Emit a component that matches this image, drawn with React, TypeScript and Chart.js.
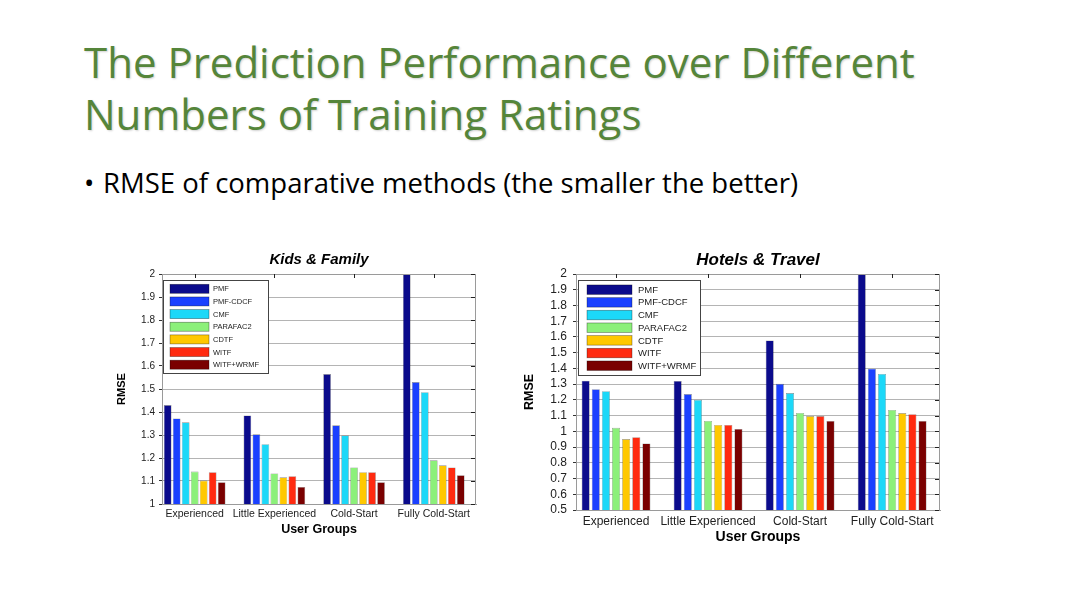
import React, { useEffect, useRef } from "react";
import { Chart, registerables } from "chart.js";

Chart.register(...registerables);

// ---------- data ----------
const categories = ["Experienced", "Little Experienced", "Cold-Start", "Fully Cold-Start"];
const methods = ["PMF", "PMF-CDCF", "CMF", "PARAFAC2", "CDTF", "WITF", "WITF+WRMF"];
const methodColors = ["#0b0b8c", "#1a40ff", "#1cd8f8", "#8cf07a", "#ffc800", "#ff2a10", "#7a0000"];

// Kids & Family RMSE
const kidsPMF = [1.43, 1.385, 1.565, 2.0];
const kidsPMFCDCF = [1.372, 1.303, 1.342, 1.53];
const kidsCMF = [1.355, 1.26, 1.298, 1.486];
const kidsPARAFAC2 = [1.141, 1.133, 1.159, 1.19];
const kidsCDTF = [1.102, 1.116, 1.138, 1.168];
const kidsWITF = [1.138, 1.121, 1.138, 1.159];
const kidsWITFWRMF = [1.095, 1.074, 1.095, 1.125];

// Hotels & Travel RMSE
const hotelsPMF = [1.322, 1.32, 1.578, 2.0];
const hotelsPMFCDCF = [1.268, 1.237, 1.302, 1.398];
const hotelsCMF = [1.255, 1.2, 1.243, 1.365];
const hotelsPARAFAC2 = [1.022, 1.066, 1.117, 1.136];
const hotelsCDTF = [0.951, 1.041, 1.097, 1.116];
const hotelsWITF = [0.963, 1.041, 1.097, 1.109];
const hotelsWITFWRMF = [0.923, 1.015, 1.066, 1.066];

const kidsSeries = [kidsPMF, kidsPMFCDCF, kidsCMF, kidsPARAFAC2, kidsCDTF, kidsWITF, kidsWITFWRMF];
const hotelsSeries = [hotelsPMF, hotelsPMFCDCF, hotelsCMF, hotelsPARAFAC2, hotelsCDTF, hotelsWITF, hotelsWITFWRMF];

const FONT = "'Liberation Sans', Arial, sans-serif";

// ---------- MATLAB-like frame, ticks and legend ----------
const matlabPlugin = {
  id: "matlab",
  afterDatasetsDraw(chart: any, _args: any, opts: any) {
    const { ctx, chartArea: a, scales } = chart;
    ctx.save();
    ctx.strokeStyle = "#9a9a9a";
    ctx.lineWidth = 1;
    ctx.beginPath();
    ctx.moveTo(Math.round(a.right) - 0.5, a.top);
    ctx.lineTo(Math.round(a.right) - 0.5, a.bottom);
    ctx.moveTo(a.left, Math.round(a.top) + 0.5);
    ctx.lineTo(a.right, Math.round(a.top) + 0.5);
    ctx.stroke();

    ctx.strokeStyle = "#222";
    ctx.beginPath();
    scales.y.ticks.forEach((_t: any, i: number) => {
      const y = Math.round(scales.y.getPixelForTick(i)) + 0.5;
      ctx.moveTo(a.right - 5, y);
      ctx.lineTo(a.right - 1, y);
    });
    scales.x.ticks.forEach((_t: any, i: number) => {
      const x = Math.round(scales.x.getPixelForTick(i)) + 0.5;
      ctx.moveTo(x, a.top);
      ctx.lineTo(x, a.top + 4);
    });
    ctx.stroke();

    const L = opts.legend;
    const bx = Math.round(a.left + L.dx);
    const by = Math.round(a.top + L.dy);
    ctx.fillStyle = "#fff";
    ctx.fillRect(bx, by, L.w, L.h);
    ctx.strokeStyle = "#444";
    ctx.lineWidth = 1;
    ctx.strokeRect(bx + 0.5, by + 0.5, L.w, L.h);
    ctx.font = `${L.fontSize}px ${FONT}`;
    ctx.textBaseline = "middle";
    ctx.textAlign = "left";
    chart.data.datasets.forEach((ds: any, i: number) => {
      const cy = by + L.firstRow + i * L.rowGap;
      ctx.fillStyle = ds.backgroundColor;
      ctx.fillRect(bx + L.swX, cy - L.swH / 2, L.swW, L.swH);
      ctx.strokeStyle = "rgba(0,0,0,0.45)";
      ctx.lineWidth = 0.7;
      ctx.strokeRect(bx + L.swX, cy - L.swH / 2, L.swW, L.swH);
      ctx.fillStyle = "#222";
      ctx.fillText(ds.label, bx + L.textX, cy + 0.5);
    });
    ctx.restore();
  },
};

type Cfg = {
  left: number; top: number; width: number; height: number;
  title: string; titleSize: number; titleTop: number; titleBottom: number;
  series: number[][];
  yMin: number; yMax: number;
  xMin: number; xMax: number;
  catPct: number; barPct: number;
  yAxisW: number; yTickSize: number; yTickPad: number; yTitleSize: number; yTitlePadT: number;
  xAxisH: number; xTickSize: number; xTickPad: number; xTitleSize: number; xTitlePadB: number;
  padRight: number;
  legend: any;
};

function BarChart({ cfg }: { cfg: Cfg }) {
  const ref = useRef<HTMLCanvasElement>(null);
  useEffect(() => {
    if (!ref.current) return;
    const chart = new Chart(ref.current, {
      type: "bar",
      data: {
        datasets: methods.map((m, i) => ({
          label: m,
          data: cfg.series[i].map((v, j) => ({ x: j + 1, y: v })),
          backgroundColor: methodColors[i],
          borderColor: "rgba(0,0,0,0.45)",
          borderWidth: 0.6,
          categoryPercentage: cfg.catPct,
          barPercentage: cfg.barPct,
        })),
      },
      options: {
        animation: false,
        responsive: false,
        devicePixelRatio: 1,
        layout: { padding: { left: 0, right: cfg.padRight, top: 0, bottom: 0 } },
        plugins: {
          legend: { display: false },
          tooltip: { enabled: false },
          title: {
            display: true,
            fullSize: false,
            text: cfg.title,
            color: "#000",
            font: { family: FONT, size: cfg.titleSize, weight: "bold", style: "italic" },
            padding: { top: cfg.titleTop, bottom: cfg.titleBottom },
          },
          matlab: { legend: cfg.legend },
        } as any,
        scales: {
          x: {
            type: "linear",
            min: cfg.xMin,
            max: cfg.xMax,
            offset: false,
            afterBuildTicks: (s: any) => {
              s.ticks = categories.map((_c, i) => ({ value: i + 1 }));
            },
            afterFit: (s: any) => {
              s.height = cfg.xAxisH;
            },
            ticks: {
              autoSkip: false,
              maxRotation: 0,
              padding: cfg.xTickPad,
              color: "#222",
              font: { family: FONT, size: cfg.xTickSize },
              callback: (v: any) => categories[Math.round(v) - 1] ?? "",
            },
            grid: { display: false, drawTicks: false },
            border: { display: true, color: "#9a9a9a" },
            title: {
              display: true,
              text: "User Groups",
              color: "#000",
              font: { family: FONT, size: cfg.xTitleSize, weight: "bold" },
              padding: { top: 0, bottom: cfg.xTitlePadB },
            },
          },
          y: {
            min: cfg.yMin,
            max: cfg.yMax,
            afterFit: (s: any) => {
              s.width = cfg.yAxisW;
            },
            ticks: {
              stepSize: 0.1,
              autoSkip: false,
              padding: cfg.yTickPad,
              color: "#222",
              font: { family: FONT, size: cfg.yTickSize },
              callback: (v: any) => String(Math.round(Number(v) * 10) / 10),
            },
            grid: { color: "#b4b4b4", lineWidth: 1, tickLength: 3, tickColor: "#333" },
            border: { display: true, color: "#9a9a9a" },
            title: {
              display: true,
              text: "RMSE",
              color: "#000",
              font: { family: FONT, size: cfg.yTitleSize, weight: "bold" },
              padding: { top: cfg.yTitlePadT, bottom: 0 },
            },
          },
        },
      } as any,
      plugins: [matlabPlugin],
    });
    return () => chart.destroy();
  }, [cfg]);
  return (
    <div style={{ position: "absolute", left: cfg.left, top: cfg.top, width: cfg.width, height: cfg.height }}>
      <canvas ref={ref} width={cfg.width} height={cfg.height} style={{ width: cfg.width, height: cfg.height, display: "block" }} />
    </div>
  );
}

const kidsCfg: Cfg = {
  left: 100, top: 248, width: 390, height: 295,
  title: "Kids & Family", titleSize: 15, titleTop: 3, titleBottom: 5,
  series: kidsSeries,
  yMin: 1, yMax: 2, xMin: 0.59, xMax: 4.53,
  catPct: 0.79, barPct: 0.86,
  yAxisW: 62, yTickSize: 10, yTickPad: 4, yTitleSize: 11, yTitlePadT: 15.4,
  xAxisH: 39, xTickSize: 10.5, xTickPad: 4, xTitleSize: 12.5, xTitlePadB: 5.5,
  padRight: 14,
  legend: { dx: 1, dy: 6, w: 105, h: 93, swX: 7, swW: 39, swH: 9, textX: 50, firstRow: 8.8, rowGap: 12.65, fontSize: 7.5 },
};

const hotelsCfg: Cfg = {
  left: 510, top: 248, width: 445, height: 300,
  title: "Hotels & Travel", titleSize: 17, titleTop: 1.8, titleBottom: 3.8,
  series: hotelsSeries,
  yMin: 0.5, yMax: 2, xMin: 0.565, xMax: 4.52,
  catPct: 0.77, barPct: 0.8,
  yAxisW: 66, yTickSize: 12, yTickPad: 6, yTitleSize: 12.5, yTitlePadT: 12.5,
  xAxisH: 38, xTickSize: 12, xTickPad: 4.5, xTitleSize: 14, xTitlePadB: 2.6,
  padRight: 15,
  legend: { dx: 2, dy: 6, w: 122, h: 95, swX: 9, swW: 45, swH: 9.5, textX: 60, firstRow: 9.7, rowGap: 12.67, fontSize: 9.5 },
};

const SLIDE_FONT = "'Open Sans', 'Noto Sans', sans-serif";

export default function App() {
  return (
    <div style={{ position: "absolute", left: 0, top: 0, width: 1080, height: 607, background: "#fff", overflow: "hidden" }}>
      <div
        style={{
          position: "absolute", left: 84, top: 36, whiteSpace: "nowrap",
          fontFamily: SLIDE_FONT, fontSize: 42, lineHeight: "52px",
          color: "#55853a", textShadow: "1px 1px 2px rgba(0,0,0,0.18)",
        }}
      >
        The Prediction Performance over Different
        <br />
        Numbers of Training Ratings
      </div>
      <div style={{ position: "absolute", left: 84, top: 168.5, fontFamily: SLIDE_FONT, fontSize: 27.5, lineHeight: "27.5px", color: "#000" }}>
        •
      </div>
      <div style={{ position: "absolute", left: 103, top: 168.5, whiteSpace: "nowrap", fontFamily: SLIDE_FONT, fontSize: 27.5, lineHeight: "27.5px", color: "#000" }}>
        RMSE of comparative methods (the smaller the better)
      </div>
      <BarChart cfg={kidsCfg} />
      <BarChart cfg={hotelsCfg} />
    </div>
  );
}
